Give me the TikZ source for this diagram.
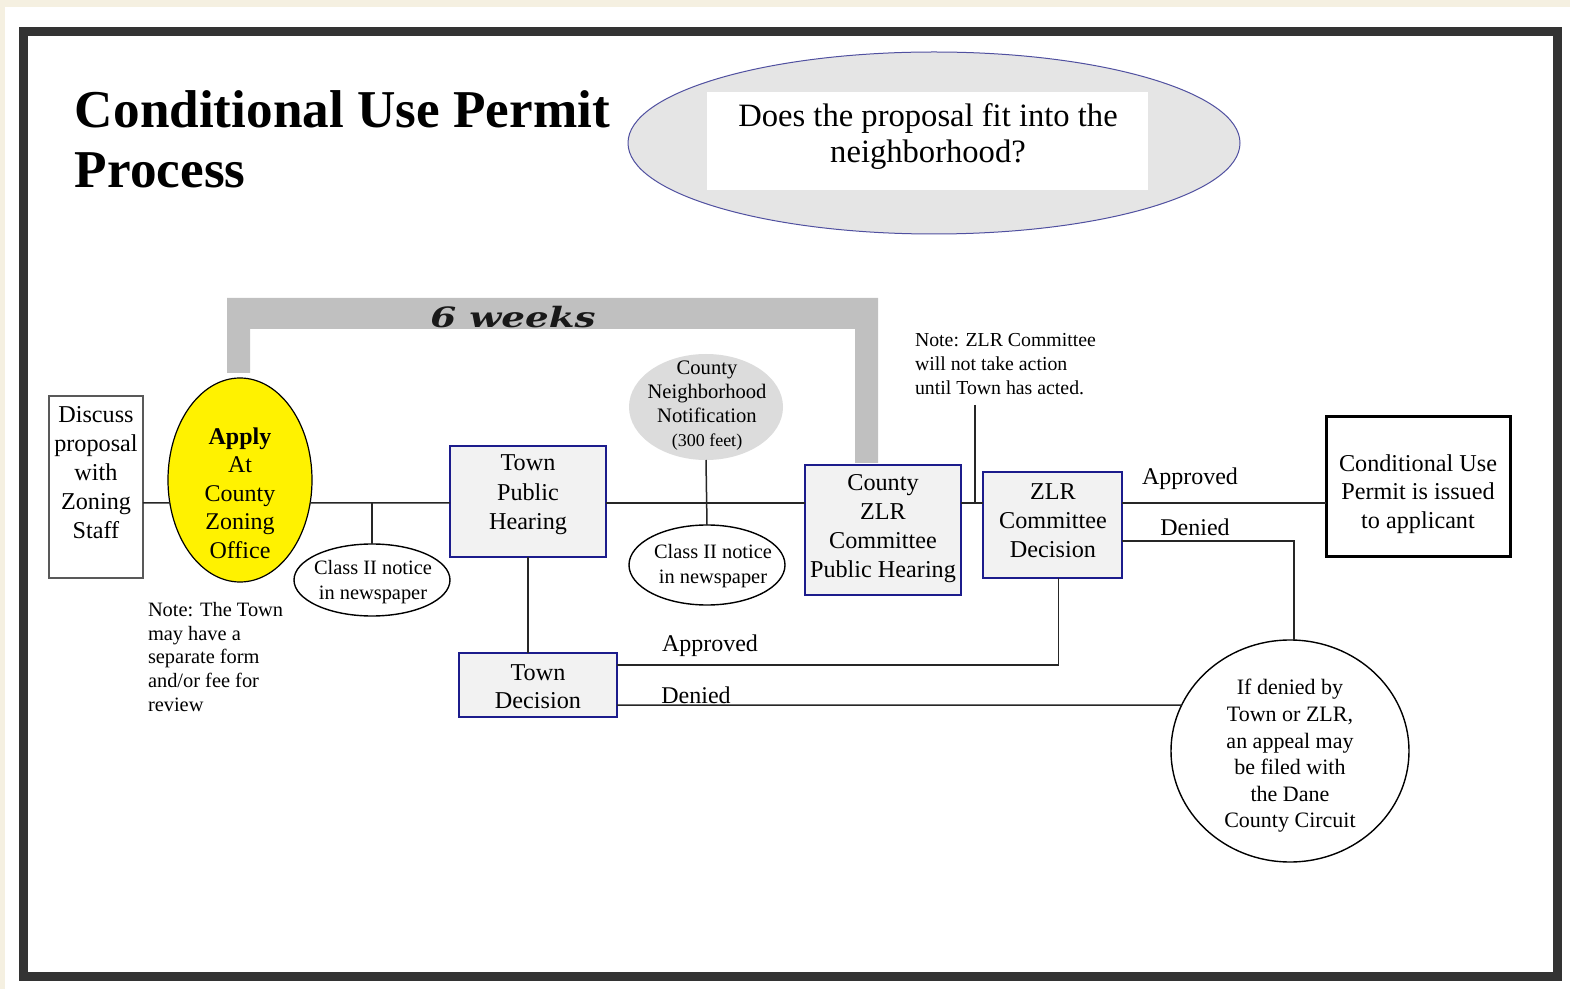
\documentclass[tikz,border=0pt]{standalone}
\usepackage{fontspec}
\setmainfont{Liberation Serif}
\newfontfamily\weeksfont{DejaVu Serif}
\usetikzlibrary{shapes.geometric}
\definecolor{cream}{RGB}{245,240,225}
\definecolor{framecol}{RGB}{51,51,51}
\definecolor{navy}{RGB}{28,28,140}
\definecolor{boxfill}{RGB}{242,242,242}
\definecolor{qfill}{RGB}{229,229,229}
\definecolor{qborder}{RGB}{80,80,160}
\definecolor{cnnfill}{RGB}{220,220,220}
\definecolor{barfill}{RGB}{192,192,192}
\begin{document}
\begin{tikzpicture}[x=0.5pt,y=-0.5pt,
  every node/.style={inner sep=0pt, outer sep=0pt},
  navybox/.style={rectangle, draw=navy, fill=boxfill, line width=1.3pt},
  oval/.style={ellipse, draw=black, fill=white, line width=0.7pt},
  conn/.style={line width=0.75pt, draw=black!85},
  txt/.style={align=center, font=\fontsize{12.1}{14.5}\selectfont},
  small/.style={align=center, font=\fontsize{10.2}{12.3}\selectfont},
  note/.style={align=left, anchor=west},
  lbl/.style={font=\fontsize{12}{14.5}\selectfont},
]
\useasboundingbox (0,0) rectangle (1570,989);
\fill[cream] (0,0) rectangle (1570,989);
\fill[white] (5,7) rectangle (1570,989);
\draw[framecol, line width=4.5pt, fill=white] (23.5,31.5) rectangle (1557.5,976);

% title
\node[anchor=north west, align=left, font=\fontsize{26.6}{30}\selectfont\bfseries] (title) at (75,91) {Conditional Use Permit\\Process};

% question
\node[ellipse, draw=qborder, fill=qfill, line width=0.5pt, minimum width=306pt, minimum height=91pt] (qell) at (934,143) {};
\node[fill=white, minimum width=220.5pt, minimum height=49pt] (qbox) at (927.5,141) {};
\node[align=center, font=\fontsize{16.3}{18}\selectfont] (qtext) at (928,137) {Does the proposal fit into the\\neighborhood?};

% 6 weeks bar
\fill[barfill] (227,373) -- (227,298) -- (878,298) -- (878,463) -- (855,463) -- (855,329) -- (250,329) -- (250,373) -- cycle;
\node[text=black!90] (weeks) at (513,317) {\scalebox{1.33}[1]{\fontsize{14}{16}\weeksfont\bfseries\itshape 6 weeks}};

% shapes
\node[draw=black!65, line width=1.2pt, fill=white, minimum width=47pt, minimum height=91pt] (discuss) at (96,487) {};
\node[txt] (discusst) at (96,473) {Discuss\\proposal\\with\\Zoning\\Staff};

\node[ellipse, draw=black, fill=yellow, line width=0.6pt, minimum width=72pt, minimum height=102pt] (apply) at (240,480) {};
\node[txt, font=\fontsize{12}{14.25}\selectfont] (applyt) at (240,493) {\textbf{Apply}\\At\\County\\Zoning\\Office};

\node[navybox, minimum width=78pt, minimum height=55.5pt] (tph) at (528,501.5) {};
\node[txt, font=\fontsize{12.1}{14.75}\selectfont] (tpht) at (528,495) {Town\\Public\\Hearing};

\node[oval, minimum width=78pt, minimum height=36pt] (class1) at (372,580) {};
\node[small] (class1t) at (373,582) {Class II notice\\in newspaper};

\node[ellipse, fill=cnnfill, minimum width=77pt, minimum height=53pt] (cnn) at (706,407) {};
\node[small, font=\fontsize{10.3}{12}\selectfont] (cnnt) at (707,406) {County\\Neighborhood\\Notification\\{\fontsize{9}{12}\selectfont(300 feet)}};

\node[oval, minimum width=78pt, minimum height=40pt] (class2) at (707,565) {};
\node[small] (class2t) at (713,566) {Class II notice\\in newspaper};

\node[navybox, minimum width=78pt, minimum height=65pt] (czlr) at (883,530) {};
\node[txt] (czlrt) at (883,529) {County\\ZLR\\Committee\\Public Hearing};

\node[navybox, minimum width=69.5pt, minimum height=53pt] (zlrd) at (1052.5,525) {};
\node[txt] (zlrdt) at (1053,521) {ZLR\\Committee\\Decision};

\node[draw=black, line width=1.5pt, fill=white, minimum width=92pt, minimum height=70pt] (cup) at (1418,487) {};
\node[txt, font=\fontsize{12.1}{14.25}\selectfont] (cupt) at (1418,494) {Conditional Use\\Permit is issued\\to applicant};

\node[navybox, minimum width=79pt, minimum height=32pt] (td) at (538,685) {};
\node[txt, font=\fontsize{12.1}{14}\selectfont] (tdt) at (538,687) {Town\\Decision};

\node[oval, minimum width=119pt, minimum height=111pt] (appeal) at (1290,751) {};
\node[align=center, font=\fontsize{11}{13.3}\selectfont] (appealt) at (1290,756) {If denied by\\Town or ZLR,\\an appeal may\\be filed with\\the Dane\\County Circuit};

% notes
\node[note, font=\fontsize{10.2}{11.9}\selectfont] (note1) at (148,657) {Note: The Town\\may have a\\separate form\\and/or fee for\\review};
\node[note, font=\fontsize{9.9}{12}\selectfont] (note2) at (915,364) {Note: ZLR Committee\\will not take action\\until Town has acted.};

% connector helpers
\coordinate (m) at (0,503);
\coordinate (dz) at (0,541);
\coordinate (ta) at (0,665);
\coordinate (tdn) at (0,705);
\coordinate (n2) at (975,405);

% connectors
\draw[conn] (discuss.east |- m) -- (apply.198);
\draw[conn] (apply.-18) -- (tph.west |- m);
\draw[conn] (class1.north) -- (class1.north |- m);
\draw[conn] (tph.east |- m) -- (czlr.west |- m);
\draw[conn] (cnn.south) -- (class2.north);
\draw[conn] (czlr.east |- m) -- (zlrd.west |- m);
\draw[conn] (n2) -- (n2 |- m);
\draw[conn] (zlrd.east |- m) -- (cup.west |- m);
\draw[conn] (zlrd.east |- dz) -| (appeal.88);
\draw[conn] ([xshift=3pt]zlrd.south) |- (td.east |- ta);
\draw[conn] (tph.south) -- (tph.south |- td.north);
\draw[conn] (td.east |- tdn) -- (appeal.157);

% labels
\node[lbl] (appr1) at (1190,479) {Approved};
\node[lbl] (den1) at (1195,527) {Denied};
\node[lbl] (appr2) at (710,646) {Approved};
\node[lbl] (den2) at (696,695) {Denied};
\end{tikzpicture}
\end{document}
